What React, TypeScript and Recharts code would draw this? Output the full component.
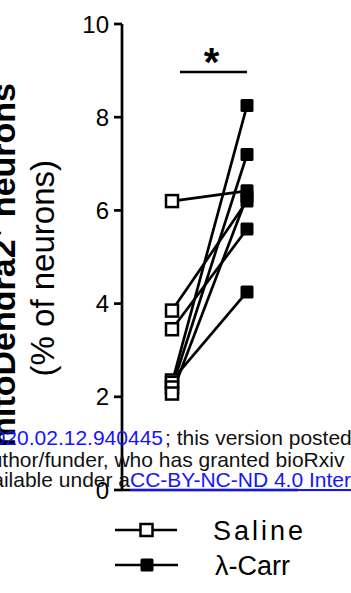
import React from 'react';
import { ComposedChart, Line, Scatter, XAxis, YAxis, ReferenceLine, Legend } from 'recharts';

const categories = ['Saline', 'λ-Carr'];
const categoryX = [1, 2.5];
const salineValues = [6.2, 3.85, 3.45, 2.35, 2.3, 2.2, 2.07];
const carrValues = [6.42, 6.2, 5.6, 4.25, 8.25, 7.2, 6.3];
const yTicks = [0, 2, 4, 6, 8, 10];
const yDomain = [0, 10];
const xDomain = [0, 3.52];
const sigBar = { x1: 1.16, x2: 2.5, y: 8.97, label: '*' };

const FONT = '"Liberation Sans", Arial, Helvetica, sans-serif';

const pairRows = categoryX.map((x, i) => {
  const row: Record<string, number> = { x };
  salineValues.forEach((s, k) => {
    row['p' + k] = i === 0 ? s : carrValues[k];
  });
  return row;
});
const salinePts = salineValues.map((v) => ({ x: categoryX[0], y: v }));
const carrPts = carrValues.map((v) => ({ x: categoryX[1], y: v }));

const OpenSquare = (p: any) => (
  <rect x={p.cx - 6} y={p.cy - 6} width={12} height={12} fill="#fff" stroke="#000" strokeWidth={2.5} />
);
const FilledSquare = (p: any) => (
  <rect x={p.cx - 6.5} y={p.cy - 6.5} width={13} height={13} rx={1.5} fill="#000" />
);

const YLabels = () => (
  <g fontFamily={FONT} fill="#000">
    <text x={15} y={83} transform="rotate(-90 15 83)" textAnchor="end" fontSize={34} fontWeight="bold">
      mitoDendra2
      <tspan dy={-12} fontSize={22}>+</tspan>
      <tspan dy={12}> neurons</tspan>
    </text>
    <text x={54} y={160} transform="rotate(-90 54 160)" textAnchor="end" fontSize={33}>
      (% of neurons)
    </text>
  </g>
);

const SigLabel = (props: any) => {
  const vb = props.viewBox || {};
  const cx = (vb.x || 0) + (vb.width || 0) / 2 - 2;
  const y = (vb.y || 0) + 4;
  return (
    <text x={cx} y={y} textAnchor="middle" fontSize={40} fontWeight="bold" fontFamily={FONT} fill="#000">
      {sigBar.label}
    </text>
  );
};

const LegendContent = () => (
  <svg width={351} height={90} style={{ display: 'block' }}>
    <g>
      <line x1={115} x2={177} y1={30} y2={30} stroke="#000" strokeWidth={2.7} />
      <rect x={140.5} y={24} width={12} height={12} fill="#fff" stroke="#000" strokeWidth={2.5} />
      <text x={213} y={40} fontSize={27} letterSpacing={3} fontFamily={FONT} fill="#000">
        {categories[0]}
      </text>
    </g>
    <g>
      <line x1={115} x2={178} y1={65} y2={65} stroke="#000" strokeWidth={2.7} />
      <rect x={140.5} y={58.5} width={13} height={13} rx={1.5} fill="#000" />
      <text x={215} y={75} fontSize={27} fontFamily={FONT} fill="#000">
        {categories[1]}
      </text>
    </g>
  </svg>
);

export default function App() {
  return (
    <div style={{ position: 'absolute', left: 0, top: 0, width: 351, height: 593, background: '#fff' }}>
      <ComposedChart
        width={351}
        height={593}
        data={pairRows}
        margin={{ top: 24, right: 53, bottom: 102, left: 0 }}
      >
        <XAxis
          type="number"
          dataKey="x"
          domain={xDomain}
          tick={false}
          tickLine={false}
          axisLine={{ stroke: '#000', strokeWidth: 2.7 }}
          height={1}
        />
        <YAxis
          type="number"
          domain={yDomain}
          ticks={yTicks}
          interval={0}
          width={122}
          tickSize={8}
          tickMargin={5}
          tick={{ fontSize: 24, fill: '#000', fontFamily: FONT }}
          axisLine={{ stroke: '#000', strokeWidth: 2.7 }}
          tickLine={{ stroke: '#000', strokeWidth: 2.7 }}
          label={<YLabels />}
        />
        {salineValues.map((_, k) => (
          <Line
            key={k}
            dataKey={'p' + k}
            stroke="#000"
            strokeWidth={2.7}
            dot={false}
            activeDot={false}
            isAnimationActive={false}
            legendType="none"
          />
        ))}
        <Scatter data={salinePts} dataKey="y" shape={OpenSquare} isAnimationActive={false} legendType="none" />
        <Scatter data={carrPts} dataKey="y" shape={FilledSquare} isAnimationActive={false} legendType="none" />
        <ReferenceLine
          segment={[
            { x: sigBar.x1, y: sigBar.y },
            { x: sigBar.x2, y: sigBar.y },
          ]}
          stroke="#000"
          strokeWidth={2.7}
          label={<SigLabel />}
        />
        <Legend
          layout="horizontal"
          verticalAlign="middle"
          align="center"
          content={<LegendContent />}
          wrapperStyle={{ position: 'absolute', left: 0, top: 500, width: 351, height: 90 }}
        />
      </ComposedChart>
      <svg
        width={351}
        height={593}
        style={{ position: 'absolute', left: 0, top: 0, pointerEvents: 'none' }}
        fontFamily={FONT}
        fontSize={21}
      >
        <text x={163} y={445} textAnchor="end" fill="#1414ff">2020.02.12.940445</text>
        <text x={165} y={445} fill="#111">; this version posted</text>
        <text x={-21} y={467} fill="#111">author/funder, who has granted bioRxiv</text>
        <text x={130} y={487} textAnchor="end" fill="#111">available under a</text>
        <text x={130} y={487} fill="#1414ff" textDecoration="underline">CC-BY-NC-ND 4.0 International</text>
      </svg>
    </div>
  );
}
